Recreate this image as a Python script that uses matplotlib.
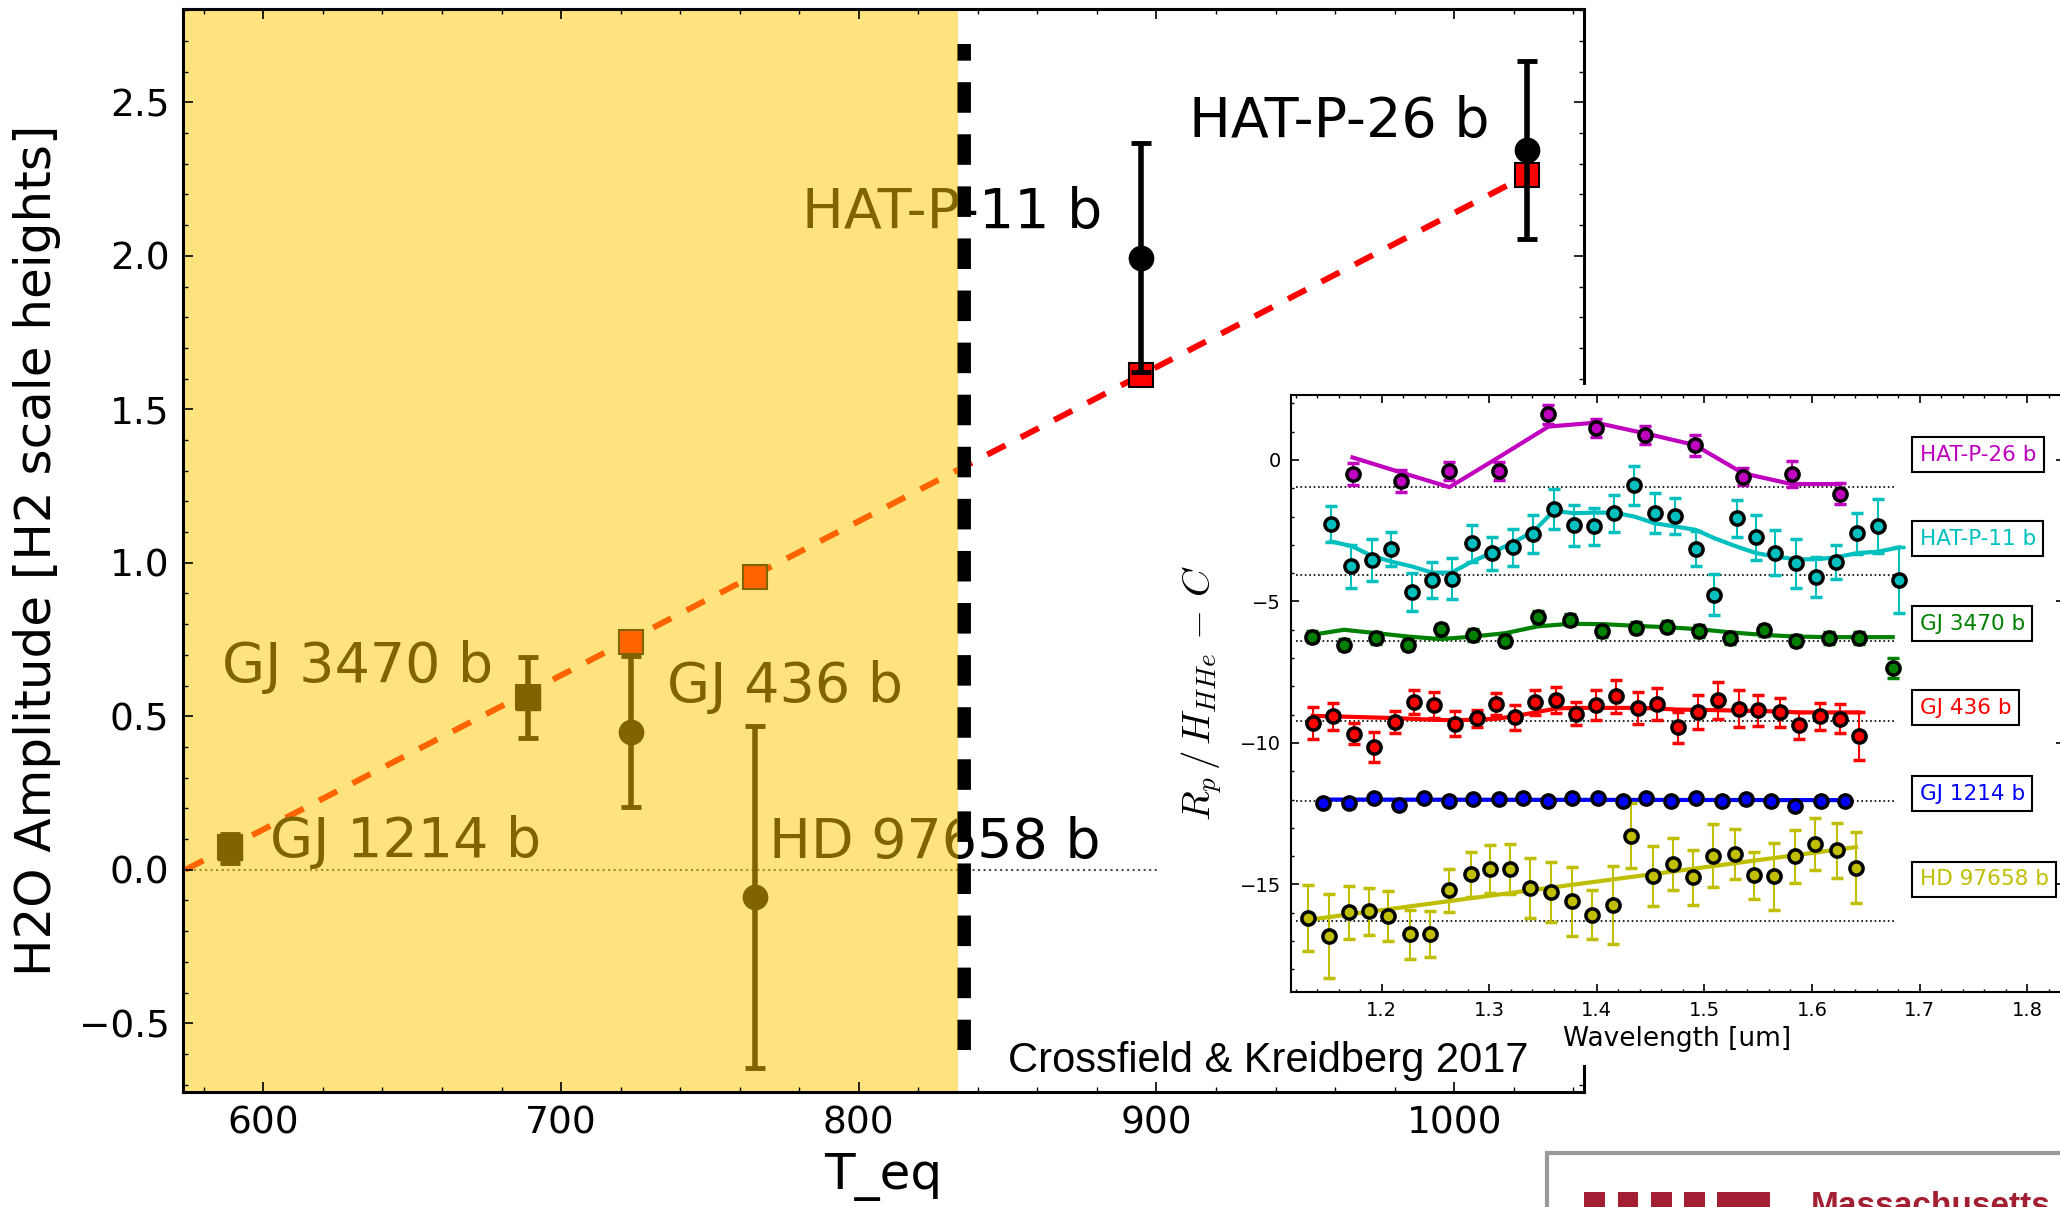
import matplotlib
matplotlib.use('Agg')
import matplotlib.pyplot as plt
from matplotlib.patches import Rectangle
from matplotlib.ticker import MultipleLocator

plt.rcParams['font.family'] = ['DejaVu Sans']
plt.rcParams['mathtext.fontset'] = 'cm'

W, H = 2060, 1207

# ---- main panel: water amplitude against equilibrium temperature
planets = ['GJ 1214 b', 'GJ 3470 b', 'GJ 436 b', 'HD 97658 b', 'HAT-P-11 b', 'HAT-P-26 b']
teq = [588.8, 688.8, 723.5, 765.3, 894.7, 1024.6]
amp = [0.07, 0.561, 0.45, -0.089, 1.994, 2.344]
amp_err = [0.047, 0.133, 0.246, 0.556, 0.372, 0.29]
amp_fit = [0.075, 0.563, 0.743, 0.954, 1.611, 2.263]
point_marker = ['s', 's', 'o', 'o', 'o', 'o']

fit_teq = [573.8, 1024.6]
fit_amp = [0.0, 2.263]

cool_limit = 833.3          # right edge of the shaded (cool) region
divider_teq = [835.2, 835.2]
divider_amp = [2.69, -0.586]

# where each planet name sits (left, baseline)
label_pos = {
    'GJ 1214 b': (602.2, 0.041),
    'GJ 3470 b': (586.0, 0.612),
    'GJ 436 b': (735.6, 0.548),
    'HD 97658 b': (769.7, 0.039),
    'HAT-P-11 b': (780.9, 2.090),
    'HAT-P-26 b': (910.9, 2.387),
}

# ---- inset: transmission spectra, offset for clarity
hp26_wl = [1.173, 1.218, 1.263, 1.309, 1.355, 1.399, 1.445, 1.491, 1.536, 1.581, 1.626]
hp26_val = [-0.49, -0.74, -0.39, -0.40, 1.61, 1.14, 0.87, 0.52, -0.59, -0.49, -1.19]
hp26_err = [0.38, 0.38, 0.32, 0.32, 0.34, 0.31, 0.32, 0.38, 0.31, 0.45, 0.36]
hp26_model = [0.09, -0.44, -0.96, 0.10, 1.18, 1.32, 0.94, 0.53, -0.47, -0.85, -0.85]

hp11_wl = [1.153, 1.172, 1.191, 1.209, 1.228, 1.247, 1.265, 1.284, 1.303, 1.322, 1.341,
           1.360, 1.379, 1.397, 1.416, 1.435, 1.454, 1.473, 1.492, 1.509, 1.530, 1.548,
           1.566, 1.585, 1.604, 1.622, 1.642, 1.661, 1.681]
hp11_val = [-2.26, -3.76, -3.53, -3.14, -4.67, -4.24, -4.19, -2.95, -3.29, -3.09, -2.61,
            -1.73, -2.31, -2.35, -1.88, -0.89, -1.88, -1.98, -3.14, -4.76, -2.06, -2.73,
            -3.27, -3.65, -4.14, -3.62, -2.59, -2.33, -4.24]
hp11_err = [0.63, 0.75, 0.74, 0.60, 0.67, 0.62, 0.72, 0.64, 0.58, 0.64, 0.67, 0.72, 0.72,
            0.66, 0.66, 0.69, 0.70, 0.63, 0.62, 0.72, 0.65, 0.80, 0.81, 0.86, 0.70, 0.60,
            0.73, 0.96, 1.18]
hp11_model = [-2.88, -3.04, -3.39, -3.59, -3.76, -3.98, -3.98, -3.59, -3.27, -2.92, -2.53,
              -1.80, -1.88, -1.86, -1.86, -2.00, -2.24, -2.35, -2.47, -2.76, -3.06, -3.29,
              -3.41, -3.51, -3.51, -3.44, -3.29, -3.24, -3.09]

gj3470_wl = [1.135, 1.165, 1.195, 1.225, 1.255, 1.285, 1.315, 1.345, 1.375, 1.405, 1.436,
             1.465, 1.495, 1.524, 1.555, 1.585, 1.616, 1.644, 1.675]
gj3470_val = [-6.24, -6.53, -6.29, -6.53, -5.98, -6.18, -6.38, -5.55, -5.64, -6.04, -5.93,
              -5.89, -6.04, -6.29, -6.02, -6.39, -6.29, -6.29, -7.35]
gj3470_err = [0.2] * 18 + [0.35]
gj3470_model = [-6.18, -6.00, -6.12, -6.24, -6.33, -6.24, -6.12, -5.88, -5.79, -5.80, -5.86,
                -5.91, -5.98, -6.09, -6.18, -6.24, -6.26, -6.26, -6.26]

gj436_wl = [1.136, 1.155, 1.174, 1.193, 1.212, 1.230, 1.249, 1.268, 1.289, 1.306, 1.324,
            1.343, 1.362, 1.381, 1.399, 1.418, 1.438, 1.456, 1.475, 1.494, 1.513, 1.532,
            1.550, 1.570, 1.588, 1.607, 1.626, 1.644]
gj436_val = [-9.29, -9.06, -9.67, -10.15, -9.26, -8.56, -8.67, -9.32, -9.12, -8.61, -9.09,
             -8.56, -8.47, -8.96, -8.65, -8.35, -8.76, -8.61, -9.45, -8.91, -8.49, -8.79,
             -8.85, -8.92, -9.38, -9.06, -9.14, -9.76]
gj436_err = [0.56, 0.47, 0.37, 0.54, 0.38, 0.42, 0.46, 0.45, 0.30, 0.39, 0.44, 0.44, 0.46,
             0.42, 0.53, 0.59, 0.56, 0.57, 0.55, 0.59, 0.65, 0.65, 0.56, 0.51, 0.47, 0.48,
             0.50, 0.84]
gj436_model = [-9.04, -9.06, -9.08, -9.10, -9.12, -9.15, -9.18, -9.20, -9.17, -9.15, -9.05,
               -8.92, -8.78, -8.76, -8.76, -8.76, -8.76, -8.78, -8.82, -8.83, -8.84, -8.86,
               -8.87, -8.89, -8.92, -8.92, -8.92, -8.92]

gj1214_wl = [1.146, 1.170, 1.193, 1.216, 1.239, 1.263, 1.285, 1.309, 1.331, 1.355, 1.377,
             1.401, 1.424, 1.446, 1.469, 1.492, 1.516, 1.539, 1.562, 1.584, 1.608, 1.631]
gj1214_val = [-12.13, -12.13, -11.94, -12.18, -11.94, -12.04, -11.99, -11.99, -11.94, -12.04,
              -11.94, -11.94, -12.04, -11.94, -12.06, -11.94, -12.06, -11.99, -12.06, -12.21,
              -12.06, -12.06]
gj1214_err = [0.08] * 22
gj1214_model_wl = [1.146, 1.631]
gj1214_model = [-12.0, -12.02]

hd_wl = [1.132, 1.151, 1.170, 1.188, 1.206, 1.226, 1.245, 1.263, 1.283, 1.301, 1.319, 1.338,
         1.357, 1.377, 1.396, 1.415, 1.432, 1.452, 1.471, 1.489, 1.508, 1.528, 1.546, 1.565,
         1.584, 1.603, 1.623, 1.641]
hd_val = [-16.18, -16.81, -15.99, -15.95, -16.11, -16.76, -16.74, -15.21, -14.64, -14.45,
          -14.45, -15.12, -15.25, -15.59, -16.07, -15.72, -13.27, -14.71, -14.28, -14.75,
          -13.98, -13.92, -14.68, -14.71, -14.01, -13.56, -13.80, -14.41]
hd_err = [1.16, 1.48, 0.95, 0.82, 0.88, 0.87, 0.81, 0.76, 0.80, 0.84, 0.89, 1.06, 1.06, 1.22,
          0.87, 1.37, 1.14, 1.06, 0.91, 0.98, 1.12, 0.88, 0.84, 1.19, 0.95, 0.92, 0.97, 1.25]
hd_model_wl = [1.132, 1.641]
hd_model = [-16.25, -13.68]

spec_names = ['HAT-P-26 b', 'HAT-P-11 b', 'GJ 3470 b', 'GJ 436 b', 'GJ 1214 b', 'HD 97658 b']
spec_colors = ['m', 'c', 'g', 'r', 'b', 'y']
spec_baseline = [-0.96, -4.05, -6.41, -9.22, -12.06, -16.29]
spec_label_y = [0.19, -2.79, -5.79, -8.75, -11.79, -14.82]


def fig_box(x0, y0, x1, y1):
    # pixel box measured from the top-left corner -> figure fraction rect
    return [x0 / W, 1 - y1 / H, (x1 - x0) / W, (y1 - y0) / H]


def style_ticks(ax, labelsize, major, minor, pad):
    ax.tick_params(which='both', direction='in', top=True, right=True,
                   labelsize=labelsize, pad=pad)
    ax.tick_params(which='major', length=major, width=1.2)
    ax.tick_params(which='minor', length=minor, width=1)


def draw_main(fig):
    ax = fig.add_axes(fig_box(183.3, 9, 1584, 1091.7))
    ax.set_xlim(573.1, 1043.6)
    ax.set_ylim(-0.723, 2.804)

    ax.axhline(0, color='0.3', ls=':', lw=1.5, zorder=1)
    ax.plot(fit_teq, fit_amp, color='red', lw=4.3, ls=(0, (3.4, 2.9)), zorder=2)
    ax.plot(teq, amp_fit, ls='none', marker='s', ms=17.5, mfc='red', mec='k',
            mew=1.5, zorder=3)
    for t, a, e, m in zip(teq, amp, amp_err, point_marker):
        ax.errorbar(t, a, yerr=e, fmt=m, color='k', ms=17.5, elinewidth=4,
                    capsize=7.4, capthick=3.5, zorder=4)

    for name in planets:
        x, y = label_pos[name]
        ax.text(x, y, name, fontsize=40, ha='left', va='baseline', zorder=5)

    ax.plot(divider_teq, divider_amp, color='k', lw=10, ls=(1.0, (2.2, 1.55)),
            zorder=6)
    # translucent shading over the cool planets
    ax.axvspan(573.1, cool_limit, color='#FFC800', alpha=0.5, lw=0, zorder=10)

    ax.xaxis.set_major_locator(MultipleLocator(100))
    ax.xaxis.set_minor_locator(MultipleLocator(20))
    ax.yaxis.set_major_locator(MultipleLocator(0.5))
    ax.yaxis.set_minor_locator(MultipleLocator(0.1))
    style_ticks(ax, 27, 7, 3.5, 10)
    for s in ax.spines.values():
        s.set_linewidth(2.2)
        s.set_zorder(11)
    ax.xaxis.set_zorder(11)
    ax.yaxis.set_zorder(11)

    ax.set_xlabel('T_eq', fontsize=36)
    ax.xaxis.set_label_coords(0.5, -0.057)
    ax.set_ylabel('H2O Amplitude [H2 scale heights]', fontsize=36)
    ax.yaxis.set_label_coords(-0.0875, 0.5)
    return ax


def draw_inset(fig):
    fig.add_artist(Rectangle((1160 / W, 1 - 1065 / H), (2060 - 1160) / W, (1065 - 385) / H,
                             transform=fig.transFigure, fc='white', ec='none', zorder=1))
    ax = fig.add_axes(fig_box(1291, 395, 2064, 991.7))
    ax.set_zorder(2)
    ax.set_xlim(1.1158, 1.8342)
    ax.set_ylim(-18.79, 2.297)

    spectra = [
        (hp26_wl, hp26_val, hp26_err, hp26_wl, hp26_model),
        (hp11_wl, hp11_val, hp11_err, hp11_wl, hp11_model),
        (gj3470_wl, gj3470_val, gj3470_err, gj3470_wl, gj3470_model),
        (gj436_wl, gj436_val, gj436_err, gj436_wl, gj436_model),
        (gj1214_wl, gj1214_val, gj1214_err, gj1214_model_wl, gj1214_model),
        (hd_wl, hd_val, hd_err, hd_model_wl, hd_model),
    ]
    for i, (wl, val, err, mwl, model) in enumerate(spectra):
        c = spec_colors[i]
        ax.plot([1.12, 1.676], [spec_baseline[i]] * 2, 'k:', lw=1.2, zorder=1)
        ax.plot(mwl, model, color=c, lw=3, zorder=2)
        ax.errorbar(wl, val, yerr=err, fmt='o', color=c, mfc=c, mec='k', ms=9.5,
                    mew=2.5, elinewidth=1.5, capsize=4, capthick=2.5, zorder=3)
        ax.text(1.70, spec_label_y[i], spec_names[i], color=c, fontsize=15.5,
                ha='left', va='center', zorder=4,
                bbox=dict(boxstyle='square,pad=0.35', fc='w', ec='k', lw=1.5))

    ax.xaxis.set_major_locator(MultipleLocator(0.1))
    ax.xaxis.set_minor_locator(MultipleLocator(0.02))
    ax.yaxis.set_major_locator(MultipleLocator(5))
    ax.yaxis.set_minor_locator(MultipleLocator(1))
    style_ticks(ax, 14, 5.5, 2.5, 7)
    for s in ax.spines.values():
        s.set_linewidth(1.5)

    ax.set_xlabel('Wavelength [um]', fontsize=19)
    ax.xaxis.set_label_coords(0.5, -0.058)
    ax.set_ylabel(r'$R_p\,/\,H_{HHe}\,-\,C$', fontsize=28)
    ax.yaxis.set_label_coords(-0.0867, 0.5)
    return ax


def draw_logo(fig):
    mit_red = '#A31F34'
    fig.add_artist(Rectangle((1547 / W, 1 - 1260 / H), 560 / W, 107 / H,
                             transform=fig.transFigure, fc='white', ec='#9a9a9a',
                             lw=3, zorder=5))
    for x0, x1 in [(1584, 1605), (1618, 1638), (1651, 1672), (1684, 1705), (1717, 1770)]:
        fig.add_artist(Rectangle((x0 / W, 1 - 1240 / H), (x1 - x0) / W, (1240 - 1191.7) / H,
                                 transform=fig.transFigure, fc=mit_red, ec='none',
                                 zorder=6))
    fig.text(1811 / W, 1 - 1191 / H, 'Massachusetts', family='Liberation Sans',
             fontweight='bold', fontsize=24, color=mit_red, va='top', zorder=6)


fig = plt.figure(figsize=(20.6, 12.07), dpi=100)
draw_main(fig)
draw_inset(fig)
fig.text(1008 / W, 1 - 1072 / H, 'Crossfield & Kreidberg 2017', family='Liberation Sans',
         fontsize=30, va='baseline', zorder=5)
draw_logo(fig)

fig.savefig('out.png', dpi=100)
